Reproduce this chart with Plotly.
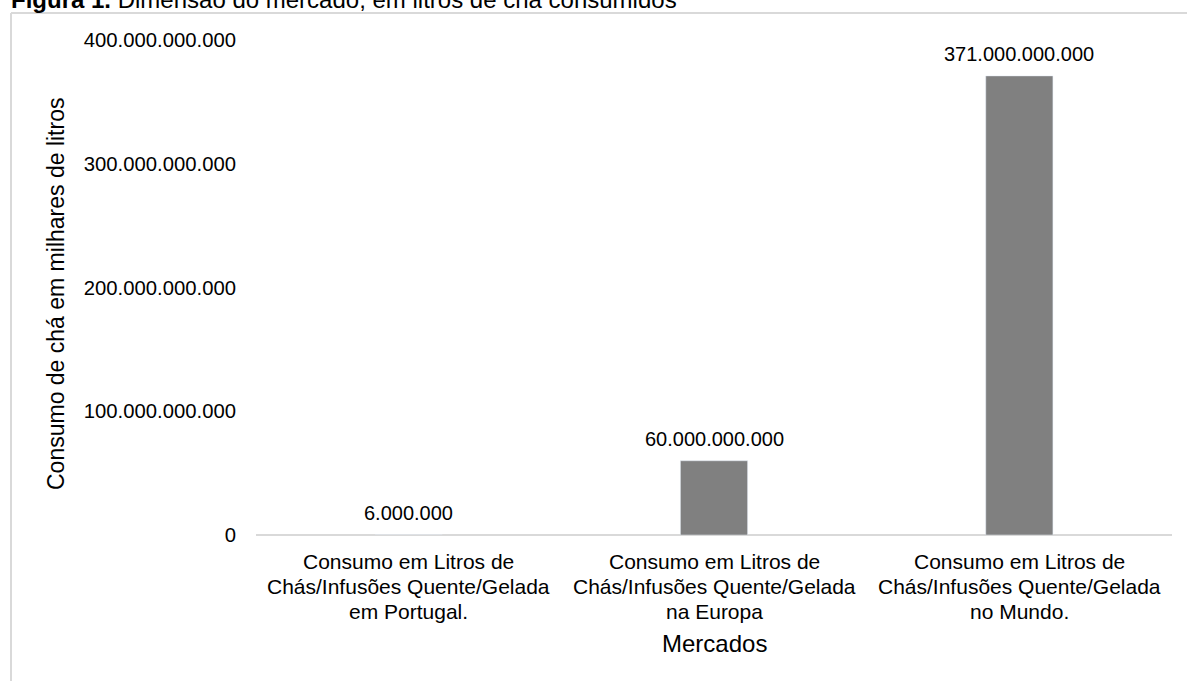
import plotly.graph_objects as go

categorias = ["Portugal", "Europa", "Mundo"]
rotulos_categoria = [
    ["Consumo em Litros de", "Chás/Infusões Quente/Gelada", "em Portugal."],
    ["Consumo em Litros de", "Chás/Infusões Quente/Gelada", "na Europa"],
    ["Consumo em Litros de", "Chás/Infusões Quente/Gelada", "no Mundo."],
]
consumo = [6_000_000, 60_000_000_000, 371_000_000_000]
ticks_y = [0, 100_000_000_000, 200_000_000_000, 300_000_000_000, 400_000_000_000]


def fmt(v):
    return f"{v:,.0f}".replace(",", ".")


W, H = 1187, 681
L, R, T, B = 256, 15, 40, 146
pw, ph = W - L - R, H - T - B


def px_x(p):
    return (p - L) / pw


def px_y(p):
    return 1 - (p - T) / ph


FONT = "Liberation Sans, Arial, sans-serif"

fig = go.Figure(
    go.Bar(
        x=categorias,
        y=consumo,
        marker_color="#808080",
        width=0.22,
        hoverinfo="x+y",
    )
)

anotacoes = []

# rótulos de valor acima de cada barra
for cat, v in zip(categorias, consumo):
    anotacoes.append(dict(
        text=fmt(v), xref="x", yref="y", x=cat, y=v,
        xanchor="center", yanchor="middle", yshift=22, showarrow=False,
        font=dict(size=20, color="#000000"),
    ))

# rótulos das categorias, linha a linha
linha_y = [561, 586, 611]
for cat, linhas in zip(categorias, rotulos_categoria):
    for texto, py in zip(linhas, linha_y):
        anotacoes.append(dict(
            text=texto, xref="x", yref="paper", x=cat, y=px_y(py),
            xanchor="center", yanchor="middle", showarrow=False,
            font=dict(size=21, color="#000000"),
        ))

anotacoes += [
    dict(text="<b>Figura 1.</b> Dimensão do mercado, em litros de chá consumidos",
         xref="paper", yref="paper", x=px_x(9), y=px_y(0),
         xanchor="left", yanchor="middle", showarrow=False,
         font=dict(size=24, color="#000000")),
    dict(text="Consumo de chá em milhares de litros",
         xref="paper", yref="paper", x=px_x(56), y=px_y(294),
         xanchor="center", yanchor="middle", textangle=-90, showarrow=False,
         font=dict(size=23, color="#000000")),
    dict(text="Mercados",
         xref="paper", yref="paper", x=px_x(714), y=px_y(643),
         xanchor="center", yanchor="middle", showarrow=False,
         font=dict(size=24, color="#000000")),
]

fig.update_layout(
    width=W,
    height=H,
    margin=dict(l=L, r=R, t=T, b=B, autoexpand=False),
    paper_bgcolor="white",
    plot_bgcolor="white",
    showlegend=False,
    font=dict(family=FONT, size=20, color="#000000"),
    xaxis=dict(
        showline=False,
        showgrid=False,
        zeroline=False,
        ticks="",
        showticklabels=False,
    ),
    yaxis=dict(
        range=[0, 400_000_000_000],
        tickvals=ticks_y,
        ticktext=[fmt(v) for v in ticks_y],
        showgrid=False,
        zeroline=True,
        zerolinecolor="#d9d9d9",
        zerolinewidth=2,
        showline=False,
        ticks="",
        ticklabelstandoff=19,
        tickfont=dict(size=20.3, color="#000000"),
    ),
    shapes=[
        # moldura do gráfico
        dict(type="line", xref="paper", yref="paper",
             x0=px_x(11), x1=px_x(1200), y0=px_y(13), y1=px_y(13),
             line=dict(color="#d9d9d9", width=2)),
        dict(type="line", xref="paper", yref="paper",
             x0=px_x(11), x1=px_x(11), y0=px_y(13), y1=px_y(700),
             line=dict(color="#d9d9d9", width=2)),
    ],
    annotations=anotacoes,
)

fig.write_html("out.html")
